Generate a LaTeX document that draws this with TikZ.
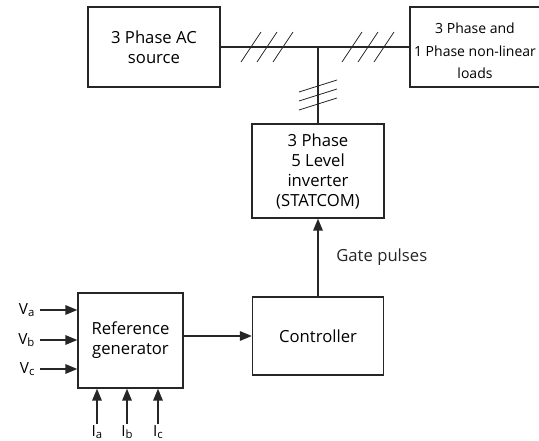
\documentclass[tikz,border=0pt]{standalone}
\usepackage{fontspec}
\setmainfont{Open Sans}
\usetikzlibrary{arrows.meta, positioning, calc}
\newcommand{\phs}[1]{\raisebox{-1.2pt}{\fontsize{8.5}{9}\selectfont #1}}

\begin{document}
\begin{tikzpicture}[
    x=0.75pt, y=-0.75pt,
    block/.style={rectangle, draw=black!85, line width=0.9pt, align=center, inner sep=0pt,
                  font=\fontsize{12.5}{15}\selectfont},
    arrow/.style={-{Triangle[length=9pt, width=7pt]}, line width=1.5pt, black!85},
    wire/.style={line width=0.9pt, black!85},
    hatch/.style={line width=0.6pt, black!85},
    sig/.style={font=\fontsize{11.5}{13}\selectfont, inner sep=1pt}
  ]
    \clip (0,0) rectangle (539,441);
    \node[block, minimum width=99pt, minimum height=60pt] (source) at (154,47) {3 Phase AC\\source};
    \node[block, minimum width=101.25pt, minimum height=60pt] (loads) at (477.5,47) {};
    \node[font=\fontsize{10.5}{17}\selectfont, align=center] (loadstxt) at (475,51) {3 Phase and\\1 Phase non-linear\\loads};
    \node[block, minimum width=99pt, minimum height=70.5pt] (inverter) at (318,171) {3 Phase\\5 Level\\inverter\\(STATCOM)};
    \node[block, minimum width=98.25pt, minimum height=58.5pt] (controller) at (318,336) {Controller};
    \node[block, minimum width=78.75pt, minimum height=71.25pt] (refgen) at (130.5,340.5) {Reference\\generator};

    % three phase bus with hatch marks
    \coordinate (jn) at (inverter.north |- source.east);
    \draw[wire] (source.east) -- (loads.west);
    \draw[wire] (jn) -- (inverter.north);
    \foreach \x in {251,267,283,352,368,384}
      \draw[hatch] (\x-10,62) -- (\x+10,32);
    \foreach \y in {86,95,104}
      \draw[hatch] (299,\y+6) -- (337,\y-6);

    % control path
    \draw[arrow] (controller) -- node[right, sig, font=\fontsize{12.5}{15}\selectfont, xshift=12pt] {Gate pulses} (inverter);
    \draw[arrow] (refgen.east |- controller) -- (controller);

    % measured signals
    \node[sig, left] (va) at (36,310) {V\phs{a}};
    \node[sig, left] (vb) at (36,340) {V\phs{b}};
    \node[sig, left] (vc) at (36,369) {V\phs{c}};
    \foreach \v in {va, vb, vc}
      \draw[arrow] ([xshift=3pt]\v.east) -- (\v -| refgen.west);
    \node[sig, below] (ia) at (97,424) {I\phs{a}};
    \node[sig, below] (ib) at (127,424) {I\phs{b}};
    \node[sig, below] (ic) at (158,424) {I\phs{c}};
    \foreach \i in {ia, ib, ic}
      \draw[arrow] (\i) -- (\i |- refgen.south);
  \end{tikzpicture}
\end{document}
